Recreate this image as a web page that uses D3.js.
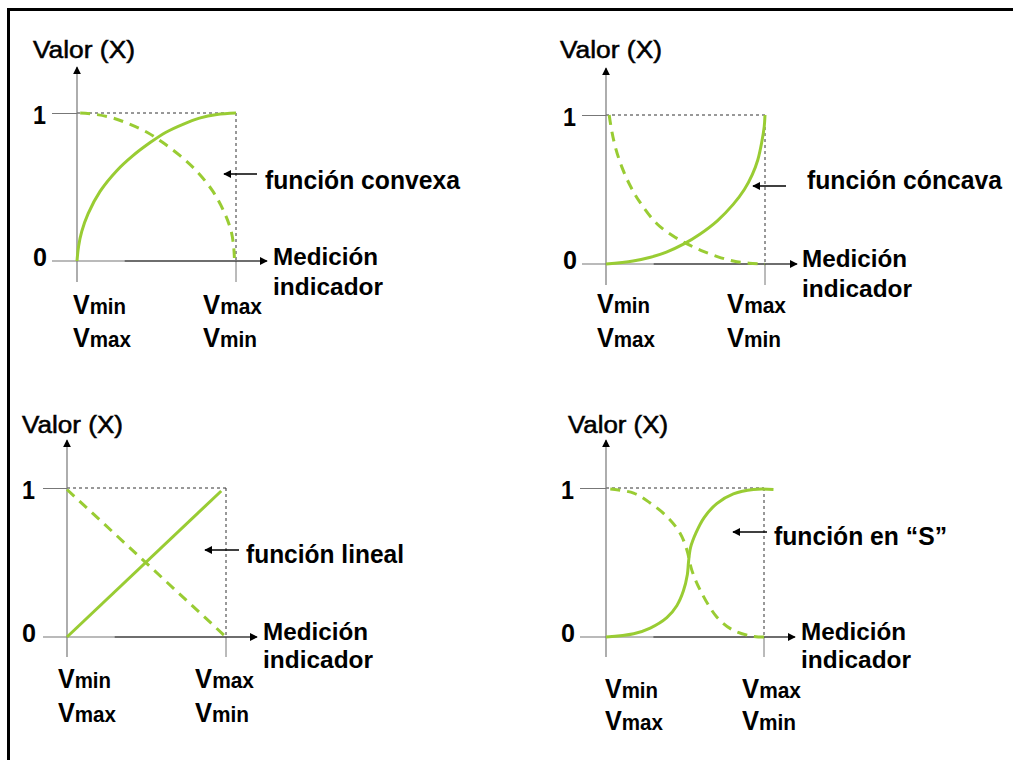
<!DOCTYPE html>
<html>
<head>
<meta charset="utf-8">
<script src="https://cdn.jsdelivr.net/npm/d3@7"></script>
<style>
  html, body { margin: 0; padding: 0; background: #fff; }
  svg { display: block; }
  text { font-family: "Liberation Sans", Arial, sans-serif; fill: #000; }
</style>
</head>
<body>
<svg id="chart" width="1013" height="760"></svg>
<script>
// ---------------- data ----------------
const yAxisTitle = "Valor (X)";
const yTickLabels = ["0", "1"];
const xAxisTitle = ["Medición", "indicador"];
const xTickLabelsRow1 = ["Vmin", "Vmax"];
const xTickLabelsRow2 = ["Vmax", "Vmin"];
const functionNames = ["función convexa", "función cóncava", "función lineal", "función en “S”"];

const convexSolid = [[0,0],[0.01,0.1],[0.03,0.2],[0.07,0.32],[0.145,0.47],[0.25,0.61],[0.35,0.71],[0.46,0.8],[0.56,0.87],[0.67,0.925],[0.77,0.965],[0.88,0.99],[1,1]];
const convexDashed = [[0.02,1],[0.12,0.99],[0.23,0.965],[0.33,0.925],[0.44,0.87],[0.54,0.8],[0.65,0.71],[0.75,0.61],[0.855,0.47],[0.93,0.32],[0.97,0.2],[0.985,0.1],[0.99,0.02]];
const concaveSolid = [[0,0],[0.17,0.02],[0.28,0.045],[0.38,0.08],[0.49,0.135],[0.59,0.2],[0.7,0.29],[0.8,0.4],[0.87,0.5],[0.92,0.6],[0.955,0.7],[0.98,0.82],[0.995,0.92],[1,1]];
const concaveDashed = [[0.02,1],[0.035,0.9],[0.06,0.78],[0.1,0.65],[0.15,0.53],[0.21,0.42],[0.32,0.27],[0.42,0.19],[0.51,0.135],[0.6,0.09],[0.7,0.05],[0.8,0.02],[0.9,0.005],[1,0]];
const linearSolid = [[0,0],[0.97,0.98]];
const linearDashed = [[0,0.99],[1,0]];
const sSolid = [[0,0],[0.175,0.022],[0.28,0.06],[0.385,0.13],[0.448,0.21],[0.49,0.31],[0.515,0.42],[0.522,0.5],[0.535,0.6],[0.57,0.7],[0.62,0.8],[0.701,0.895],[0.806,0.96],[0.933,0.99],[1.06,0.99]];
const sDashed = [[0.027,0.993],[0.175,0.966],[0.28,0.899],[0.385,0.809],[0.469,0.697],[0.512,0.584],[0.543,0.449],[0.596,0.315],[0.701,0.135],[0.806,0.045],[0.933,0.004],[1.017,0]];

const solids = [convexSolid, concaveSolid, linearSolid, sSolid];
const dashes = [convexDashed, concaveDashed, linearDashed, sDashed];

// ---------------- layout ----------------
const layout = [
  {x0:77, x1:236, y0:261, y1:113, top:67, axL:52, axR:267, tickB:282,
   valor:[33,58,102], tickX:33, med:[273,265,105], ind:[273,295,110],
   fn:[265,189,195], arr:[257,224,174], vRows:[314,347], vxL:73, vxR:203},
  {x0:606, x1:765, y0:264, y1:115, top:68, axL:582, axR:797, tickB:285,
   valor:[560,58,102], tickX:563, med:[802,267,105], ind:[802,297,110],
   fn:[807,189,195], arr:[786,753,186], vRows:[313,347], vxL:597, vxR:727},
  {x0:67, x1:226, y0:637, y1:488, top:440, axL:43, axR:257, tickB:657,
   valor:[22,433,101], tickX:22, med:[263,640,105], ind:[263,668,110],
   fn:[246,563,158], arr:[239,205,550], vRows:[688,722], vxL:58, vxR:195},
  {x0:606, x1:764, y0:637, y1:488, top:440, axL:580, axR:795, tickB:657,
   valor:[568,433,100], tickX:561, med:[801,640,105], ind:[801,668,110],
   fn:[774,545,173], arr:[767,733,532], vRows:[698,730], vxL:605, vxR:742}
];

const GREEN = "#99cc33";
const svg = d3.select("#chart");

const defs = svg.append("defs");
defs.append("marker").attr("id","ah").attr("viewBox","0 0 10 10")
  .attr("refX",9).attr("refY",5).attr("markerWidth",8).attr("markerHeight",8)
  .attr("markerUnits","userSpaceOnUse").attr("orient","auto")
  .append("path").attr("d","M0,0 L10,5 L0,10 Z").attr("fill","#000");

// frame (top + left)
svg.append("path").attr("d","M8.5,760 L8.5,9.5 L1013,9.5")
  .attr("fill","none").attr("stroke","#000").attr("stroke-width",3);

function addText(g, str, x, y, size, weight, len) {
  const t = g.append("text").attr("x", x).attr("y", y)
    .attr("font-size", size).attr("font-weight", weight).text(str);
  if (len) t.attr("textLength", len).attr("lengthAdjust", "spacingAndGlyphs");
  return t;
}
// "Vmin"/"Vmax": large V followed by smaller subscript-like letters
function addVLabel(g, str, x, y, len) {
  const t = g.append("text").attr("x", x).attr("y", y).attr("font-weight", "bold")
    .attr("textLength", len).attr("lengthAdjust", "spacingAndGlyphs");
  t.append("tspan").attr("font-size", 27).text(str.slice(0, 1));
  t.append("tspan").attr("font-size", 22).text(str.slice(1));
}

layout.forEach((L, i) => {
  const g = svg.append("g");
  const x = d3.scaleLinear().domain([0,1]).range([L.x0, L.x1]);
  const y = d3.scaleLinear().domain([0,1]).range([L.y0, L.y1]);

  // guide dashed lines
  g.append("line").attr("x1", x(0)).attr("x2", x(1)).attr("y1", y(1)).attr("y2", y(1))
    .attr("stroke","#333").attr("stroke-width",1).attr("stroke-dasharray","3,3");
  g.append("line").attr("x1", x(1)).attr("x2", x(1)).attr("y1", y(1)).attr("y2", y(0))
    .attr("stroke","#333").attr("stroke-width",1).attr("stroke-dasharray","3,3");

  // tick at "1"
  g.append("line").attr("x1", L.axL).attr("x2", x(0)).attr("y1", y(1)+0.5).attr("y2", y(1)+0.5)
    .attr("stroke","#777").attr("stroke-width",1);
  // vertical tick below x end
  g.append("line").attr("x1", x(1)).attr("x2", x(1)).attr("y1", y(0)).attr("y2", L.tickB)
    .attr("stroke","#777").attr("stroke-width",1);

  // y axis
  g.append("line").attr("x1", x(0)).attr("x2", x(0)).attr("y1", L.tickB).attr("y2", L.top)
    .attr("stroke","#777").attr("stroke-width",1.2).attr("marker-end","url(#ah)");
  // x axis
  g.append("line").attr("x1", L.axL).attr("x2", L.axR).attr("y1", y(0)).attr("y2", y(0))
    .attr("stroke","#777").attr("stroke-width",1.2);
  g.append("line").attr("x1", x(0.3)).attr("x2", L.axR).attr("y1", y(0)).attr("y2", y(0))
    .attr("stroke","#222").attr("stroke-width",1.2).attr("marker-end","url(#ah)");

  // curves
  const line = d3.line().x(d => x(d[0])).y(d => y(d[1])).curve(d3.curveCatmullRom.alpha(0.5));
  g.append("path").attr("d", line(dashes[i])).attr("fill","none")
    .attr("stroke", GREEN).attr("stroke-width",3).attr("stroke-dasharray","10,7");
  g.append("path").attr("d", line(solids[i])).attr("fill","none")
    .attr("stroke", GREEN).attr("stroke-width",3);

  // label arrow
  g.append("line").attr("x1", L.arr[0]).attr("x2", L.arr[1]).attr("y1", L.arr[2]).attr("y2", L.arr[2])
    .attr("stroke","#000").attr("stroke-width",1.5).attr("marker-end","url(#ah)");

  // texts
  addText(g, yAxisTitle, L.valor[0], L.valor[1], 23, "normal", L.valor[2])
    .attr("stroke","#000").attr("stroke-width",0.5);
  addText(g, yTickLabels[1], L.tickX, y(1)+11, 25, "bold", 13);
  addText(g, yTickLabels[0], L.tickX, y(0)+5, 25, "bold", 14);
  addText(g, xAxisTitle[0], L.med[0], L.med[1], 24, "bold", L.med[2]);
  addText(g, xAxisTitle[1], L.ind[0], L.ind[1], 24, "bold", L.ind[2]);
  addText(g, functionNames[i], L.fn[0], L.fn[1], 25, "bold", L.fn[2]);
  addVLabel(g, xTickLabelsRow1[0], L.vxL, L.vRows[0], 53);
  addVLabel(g, xTickLabelsRow2[0], L.vxL, L.vRows[1], 58);
  addVLabel(g, xTickLabelsRow1[1], L.vxR, L.vRows[0], 59);
  addVLabel(g, xTickLabelsRow2[1], L.vxR, L.vRows[1], 54);
});
</script>
</body>
</html>
